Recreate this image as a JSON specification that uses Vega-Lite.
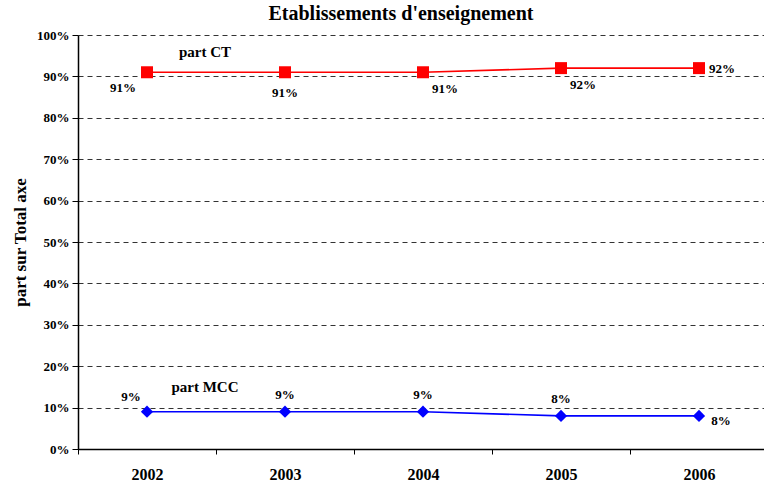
{
  "$schema": "https://vega.github.io/schema/vega-lite/v6.json",
  "width": 690,
  "height": 414,
  "autosize": "none",
  "padding": {"left": 78, "top": 35, "right": 0, "bottom": 35},
  "background": "white",
  "config": {
    "font": "Liberation Serif, Times New Roman, serif",
    "view": {"stroke": null}
  },
  "title": {
    "text": "Etablissements d'enseignement",
    "font": "Liberation Serif, Times New Roman, serif",
    "fontSize": 20,
    "fontWeight": "bold",
    "color": "black",
    "anchor": "middle",
    "dx": -22,
    "offset": 5
  },
  "data": {
    "values": [
      {"year": "2002", "series": "part CT", "value": 0.91},
      {"year": "2003", "series": "part CT", "value": 0.91},
      {"year": "2004", "series": "part CT", "value": 0.91},
      {"year": "2005", "series": "part CT", "value": 0.92},
      {"year": "2006", "series": "part CT", "value": 0.92},
      {"year": "2002", "series": "part MCC", "value": 0.09},
      {"year": "2003", "series": "part MCC", "value": 0.09},
      {"year": "2004", "series": "part MCC", "value": 0.09},
      {"year": "2005", "series": "part MCC", "value": 0.08},
      {"year": "2006", "series": "part MCC", "value": 0.08}
    ]
  },
  "encoding": {
    "x": {
      "field": "year",
      "type": "ordinal",
      "scale": {"type": "band", "paddingInner": 0, "paddingOuter": 0},
      "axis": {
        "title": null,
        "labelAngle": 0,
        "labelFont": "Liberation Serif, Times New Roman, serif",
        "labelFontSize": 16,
        "labelFontWeight": "bold",
        "labelColor": "black",
        "labelPadding": 12,
        "tickBand": "extent",
        "tickSize": 5,
        "tickColor": "black",
        "domainColor": "black",
        "domainWidth": 1.5,
        "grid": false
      }
    },
    "y": {
      "field": "value",
      "type": "quantitative",
      "scale": {"domain": [0, 1], "nice": false},
      "axis": {
        "title": "part sur Total axe",
        "titleFont": "Liberation Serif, Times New Roman, serif",
        "titleFontSize": 17,
        "titleFontWeight": "bold",
        "titleColor": "black",
        "titlePadding": 7,
        "values": [0, 0.1, 0.2, 0.3, 0.4, 0.5, 0.6, 0.7, 0.8, 0.9, 1],
        "format": ".0%",
        "labelFont": "Liberation Serif, Times New Roman, serif",
        "labelFontSize": 13,
        "labelFontWeight": "bold",
        "labelColor": "black",
        "labelPadding": 3,
        "tickSize": 6,
        "tickColor": "black",
        "domainColor": "black",
        "domainWidth": 1.5,
        "grid": true,
        "gridColor": "black",
        "gridDash": [5, 4],
        "gridOpacity": 0.8
      }
    }
  },
  "layer": [
    {
      "mark": {"type": "line", "strokeWidth": 1.6},
      "encoding": {
        "color": {
          "field": "series",
          "type": "nominal",
          "scale": {"domain": ["part CT", "part MCC"], "range": ["#ff0000", "#0000ff"]},
          "legend": null
        }
      }
    },
    {
      "mark": {"type": "point", "filled": true, "opacity": 1},
      "encoding": {
        "color": {
          "field": "series",
          "type": "nominal",
          "scale": {"domain": ["part CT", "part MCC"], "range": ["#ff0000", "#0000ff"]},
          "legend": null
        },
        "shape": {
          "field": "series",
          "type": "nominal",
          "scale": {"domain": ["part CT", "part MCC"], "range": ["square", "diamond"]},
          "legend": null
        },
        "size": {
          "field": "series",
          "type": "nominal",
          "scale": {"domain": ["part CT", "part MCC"], "range": [144, 150]},
          "legend": null
        }
      }
    },
    {
      "transform": [{"filter": "datum.series == 'part CT' && datum.year == '2002'"}],
      "mark": {"type": "text", "font": "Liberation Serif, Times New Roman, serif", "fontSize": 13, "fontWeight": "bold", "color": "black", "dx": -24, "dy": 16},
      "encoding": {"text": {"field": "value", "type": "quantitative", "format": ".0%"}}
    },
    {
      "transform": [{"filter": "datum.series == 'part CT' && datum.year == '2003'"}],
      "mark": {"type": "text", "font": "Liberation Serif, Times New Roman, serif", "fontSize": 13, "fontWeight": "bold", "color": "black", "dx": 0, "dy": 21},
      "encoding": {"text": {"field": "value", "type": "quantitative", "format": ".0%"}}
    },
    {
      "transform": [{"filter": "datum.series == 'part CT' && (datum.year == '2004' || datum.year == '2005')"}],
      "mark": {"type": "text", "font": "Liberation Serif, Times New Roman, serif", "fontSize": 13, "fontWeight": "bold", "color": "black", "dx": 22, "dy": 17},
      "encoding": {"text": {"field": "value", "type": "quantitative", "format": ".0%"}}
    },
    {
      "transform": [{"filter": "datum.series == 'part CT' && datum.year == '2006'"}],
      "mark": {"type": "text", "font": "Liberation Serif, Times New Roman, serif", "fontSize": 13, "fontWeight": "bold", "color": "black", "dx": 23, "dy": 1},
      "encoding": {"text": {"field": "value", "type": "quantitative", "format": ".0%"}}
    },
    {
      "transform": [{"filter": "datum.series == 'part MCC' && datum.year == '2002'"}],
      "mark": {"type": "text", "font": "Liberation Serif, Times New Roman, serif", "fontSize": 13, "fontWeight": "bold", "color": "black", "dx": -16, "dy": -15},
      "encoding": {"text": {"field": "value", "type": "quantitative", "format": ".0%"}}
    },
    {
      "transform": [{"filter": "datum.series == 'part MCC' && datum.year != '2002' && datum.year != '2006'"}],
      "mark": {"type": "text", "font": "Liberation Serif, Times New Roman, serif", "fontSize": 13, "fontWeight": "bold", "color": "black", "dx": 0, "dy": -17},
      "encoding": {"text": {"field": "value", "type": "quantitative", "format": ".0%"}}
    },
    {
      "transform": [{"filter": "datum.series == 'part MCC' && datum.year == '2006'"}],
      "mark": {"type": "text", "font": "Liberation Serif, Times New Roman, serif", "fontSize": 13, "fontWeight": "bold", "color": "black", "dx": 22, "dy": 5},
      "encoding": {"text": {"field": "value", "type": "quantitative", "format": ".0%"}}
    },
    {
      "data": {
        "values": [
          {"year": "2002", "value": 0.959, "label": "part CT"},
          {"year": "2002", "value": 0.15, "label": "part MCC"}
        ]
      },
      "mark": {"type": "text", "font": "Liberation Serif, Times New Roman, serif", "fontSize": 15, "fontWeight": "bold", "color": "black", "dx": 58},
      "encoding": {"text": {"field": "label", "type": "nominal"}}
    }
  ]
}
